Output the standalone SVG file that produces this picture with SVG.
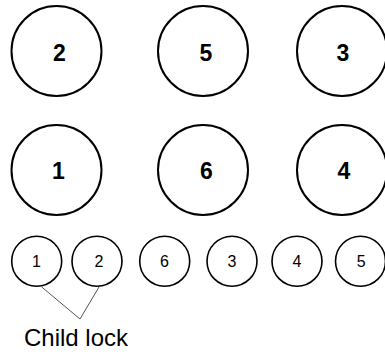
<svg xmlns="http://www.w3.org/2000/svg" width="385" height="356" viewBox="0 0 385 356">
<style>
.big{fill:#fff;stroke:#000;stroke-width:2}
.small{fill:#fff;stroke:#000;stroke-width:1.6}
.bt{font-family:"Liberation Sans",Arial,sans-serif;font-weight:bold;font-size:23px;text-anchor:middle;fill:#000}
.st{font-family:"Liberation Sans",Arial,sans-serif;font-size:16px;text-anchor:middle;fill:#000}
.lbl{font-family:"Liberation Sans",Arial,sans-serif;font-size:24px;fill:#000}
.conn{fill:none;stroke:#555;stroke-width:1}
</style>
<rect width="385" height="356" fill="#fff"/>
<g id="b2"><circle class="big" cx="56.5" cy="51" r="45"/><text class="bt" x="59.5" y="60.5">2</text></g>
<g id="b5"><circle class="big" cx="203" cy="51" r="45"/><text class="bt" x="206" y="60.5">5</text></g>
<g id="b3"><circle class="big" cx="342" cy="51" r="45"/><text class="bt" x="343" y="60.5">3</text></g>
<g id="b1"><circle class="big" cx="56.5" cy="170" r="45"/><text class="bt" x="58.5" y="179">1</text></g>
<g id="b6"><circle class="big" cx="203" cy="170" r="45"/><text class="bt" x="206.5" y="179">6</text></g>
<g id="b4"><circle class="big" cx="342" cy="170" r="45"/><text class="bt" x="344" y="179">4</text></g>
<g id="s1"><circle class="small" cx="36.7" cy="261.2" r="25"/><text class="st" x="36.5" y="267.3">1</text></g>
<g id="s2"><circle class="small" cx="97" cy="261.2" r="25"/><text class="st" x="99" y="267.3">2</text></g>
<g id="s6"><circle class="small" cx="164.7" cy="261.2" r="25"/><text class="st" x="164.5" y="267.3">6</text></g>
<g id="s3"><circle class="small" cx="232" cy="261.2" r="25"/><text class="st" x="232" y="267.3">3</text></g>
<g id="s4"><circle class="small" cx="297" cy="261.2" r="25"/><text class="st" x="297" y="267.3">4</text></g>
<g id="s5"><circle class="small" cx="360.5" cy="261.2" r="25"/><text class="st" x="361.3" y="267.3">5</text></g>
<g id="connectors"><polyline class="conn" points="41.7,287 80,319 99,287"/></g>
<g id="label"><text class="lbl" x="24" y="346">Child lock</text></g>
</svg>
